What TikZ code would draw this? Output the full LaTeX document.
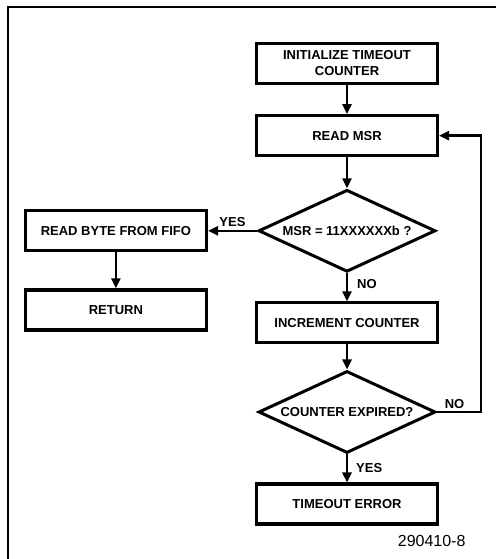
\documentclass[tikz,border=0pt]{standalone}
\usepackage{fontspec}
\setmainfont{Liberation Sans}
\usetikzlibrary{positioning,shapes.geometric,arrows.meta}
\begin{document}
\begin{tikzpicture}[x=1pt, y=1pt, >={Triangle[length=10pt,width=9pt]}, font=\bfseries\fontsize{13}{16}\selectfont]
                \tikzstyle{process} = [rectangle, draw, line width=3.2pt, minimum width=181pt, minimum height=40pt, align=center]
                \tikzstyle{decision} = [diamond, draw, line width=3pt, aspect=2.1, inner sep=0pt, minimum width=177pt, minimum height=82pt]
                \tikzstyle{flow} = [line width=2.4pt, ->]

                \useasboundingbox (0,0) rectangle (496,559);
                % frame (top and left edges only)
                \draw[line width=1.8pt] (8,0) -- (8,552) -- (496,552);

                % Main column
                \node[process] (init) at (347,495.5) {INITIALIZE TIMEOUT\\COUNTER};
                \node[process] (readmsr) [below=29pt of init] {READ MSR};
                \node[decision] (check) [below=31pt of readmsr] {MSR = 11XXXXXXb ?};
                \node[process] (incr) [below=28pt of check] {INCREMENT COUNTER};
                \node[decision] (expired) [below=25pt of incr] {COUNTER EXPIRED?};
                \node[process] (timeout) [below=28pt of expired] {TIMEOUT ERROR};

                % Left column
                \node[process] (fifo) [left=49pt of check] {READ BYTE FROM FIFO};
                \node[process] (ret) [below=36pt of fifo] {RETURN};

                \node[font=\fontsize{16}{18}\selectfont, anchor=east] (figno) at (469,18) {290410-8};

                \draw[flow] (init) -- (readmsr);
                \draw[flow] (readmsr) -- (check);
                \draw[flow] (check) -- node[above] {YES} (fifo);
                \draw[flow] (fifo) -- (ret);
                \draw[flow] (check) -- node[right, inner sep=9pt, yshift=3pt] {NO} (incr);
                \draw[flow] (incr) -- (expired);
                \draw[flow] (expired) -- node[right, inner sep=8pt] {YES} (timeout);
                \draw[flow] (expired.east) -- node[above, pos=0.4, inner sep=2pt] {NO} ++(44,0) |- (readmsr.east);
            \end{tikzpicture}
\end{document}
